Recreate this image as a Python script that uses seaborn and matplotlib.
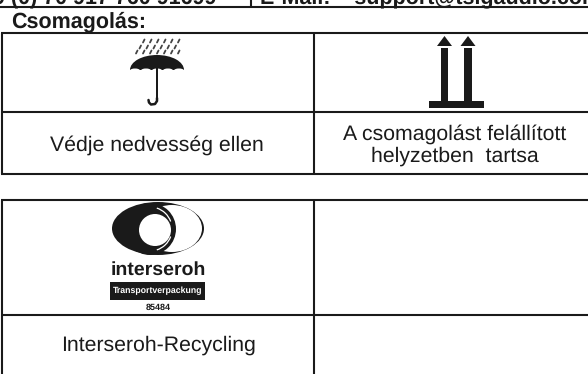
import matplotlib
matplotlib.use("Agg")
import matplotlib.pyplot as plt
from matplotlib.patches import Polygon, Rectangle, Ellipse, Circle, Arc
import seaborn as sns

sns.set_theme(style="white")
plt.rcParams['font.family'] = ['Liberation Sans', 'DejaVu Sans']
plt.rcParams['text.hinting'] = 'no_hinting'

heading = "Csomagolás:"
top_left = "9 (0) 70 917 760 91699"
top_right = "E-Mail:    support@tsigaudio.com"
captions = ["Védje nedvesség ellen", "A csomagolást felállított\nhelyzetben  tartsa", "Interseroh-Recycling"]
logo_word = "interseroh"
logo_band = "Transportverpackung"
logo_number = "85484"

fig = plt.figure(figsize=(5.88, 3.74), dpi=100, facecolor="white")
ax = fig.add_axes([0, 0, 1, 1])
ax.set_xlim(0, 588)
ax.set_ylim(374, 0)
ax.axis("off")

LW = 1.5
def hl(y, x0=1, x1=588):
    ax.plot([x0, x1], [y, y], color="k", lw=LW, solid_capstyle="butt")
def vl(x, y0, y1):
    ax.plot([x, x], [y0, y1], color="k", lw=LW, solid_capstyle="butt")

# tables
hl(6.5, x0=0)
vl(250.5, 0, 6.5)
for y in (33, 112, 174, 200, 315):
    hl(y)
vl(2, 33, 174); vl(314, 33, 174)
vl(2, 200, 374); vl(314, 200, 374)

# texts
ax.text(216, -1, top_left, fontsize=15.5, fontweight="bold", ha="right", va="center", color="k")
ax.text(260, -1, top_right, fontsize=15.5, fontweight="bold", va="center", color="k")
ax.text(11, 21.5, heading, fontsize=15.5, fontweight="bold", va="center", color="k")
ax.text(157, 145, captions[0], fontsize=15.3, ha="center", va="center", color="k")
ax.text(455, 145.5, captions[1], fontsize=15.3, ha="center", va="center", color="k", linespacing=1.17)
ax.text(158, 345, captions[2], fontsize=15.3, ha="center", va="center", color="k")

# umbrella
ax.add_patch(Ellipse((157, 70), 54, 30, color="k", lw=0))
ax.add_patch(Rectangle((125, 70), 64, 20, color="white", lw=0))
for cx in (135, 146, 157, 168, 179):
    ax.add_patch(Ellipse((cx, 70.5), 10, 4, color="white", lw=0))
ax.add_patch(Rectangle((155.7, 66), 2.4, 34, color="k", lw=0))
ax.plot([157, 157, 155, 151, 149, 148.5], [98, 101, 104, 104.5, 102.5, 100], color="k", lw=1.8)
for row, y in enumerate((41, 47, 52)):
    for i in range(6 + (row == 2)):
        x = 143 + i * 7 - row * 3.5
        ax.plot([x, x + 1.5], [y + 1.5, y - 1.5], color="#444444", lw=1.3)

# arrows
for x in (444.5, 468):
    ax.add_patch(Rectangle((x - 3.7, 48), 7.4, 53, color="k", lw=0))
    ax.add_patch(Polygon([[x - 7.5, 46], [x + 7.5, 46], [x, 36]], color="k", lw=0))
ax.add_patch(Rectangle((429, 101), 55, 7, color="k", lw=0))

# logo
ax.add_patch(Ellipse((158, 228.5), 92, 53, color="k", lw=0))
ax.add_patch(Ellipse((172, 228.5), 60, 47, color="white", lw=0))
ax.add_patch(Circle((150, 229), 26, color="k", lw=0))
ax.add_patch(Circle((155, 230), 16, color="white", lw=0))
for a0, a1 in ((-72, -20), (20, 72)):
    ax.add_patch(Arc((150, 229), 44, 44, theta1=a0, theta2=a1, color="white", lw=0.9))
ax.text(158, 270, logo_word, fontsize=14, fontweight="bold", ha="center", va="center", color="k")
ax.add_patch(Rectangle((110, 282), 95, 18, color="k", lw=0))
ax.text(157.5, 291, logo_band, fontsize=6.3, fontweight="bold", ha="center", va="center", color="white")
ax.text(158, 308, logo_number, fontsize=6.5, fontweight="bold", ha="center", va="center", color="k")

fig.savefig("out.png", dpi=100)
